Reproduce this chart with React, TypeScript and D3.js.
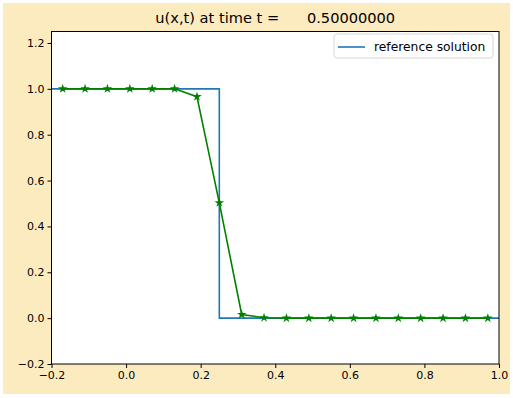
import React, { useEffect, useRef } from 'react'
import * as d3 from 'd3'

// cell centres and numerical solution at t = 0.5
const xs = [-0.17, -0.11, -0.05, 0.01, 0.07, 0.13, 0.19, 0.25, 0.31, 0.37, 0.43, 0.49, 0.55, 0.61, 0.67, 0.73, 0.79, 0.85, 0.91, 0.97]
const us = [1, 1, 1, 1, 1, 1, 0.966, 0.503, 0.016, 0.002, 0, 0, 0, 0, 0, 0, 0, 0, 0, 0]
// reference solution (step at x = 0.25)
const refX = [-0.2, 0.25, 0.25, 1.0]
const refU = [1, 1, 0, 0]
const xTicks = [-0.2, 0.0, 0.2, 0.4, 0.6, 0.8, 1.0]
const yTicks = [-0.2, 0.0, 0.2, 0.4, 0.6, 0.8, 1.0, 1.2]
const title = 'u(x,t) at time t =      0.50000000'
const legendLabel = 'reference solution'

const App: React.FC = () => {
    const ref = useRef<SVGSVGElement | null>(null)

    useEffect(() => {
        if (!ref.current) return
        const m = { left: 51.5, right: 499, top: 31.5, bottom: 364 }
        const font = 'DejaVu Sans, sans-serif'

        const svg = d3.select(ref.current)
        svg.selectAll('*').remove()

        svg.append('rect')
            .attr('x', 3).attr('y', 3)
            .attr('width', 507).attr('height', 391)
            .attr('fill', '#fdebc0')

        const x = d3.scaleLinear().domain([-0.2, 1.0]).range([m.left, m.right])
        const y = d3.scaleLinear().domain([-0.2, 1.25]).range([m.bottom, m.top])

        svg.append('rect')
            .attr('x', m.left).attr('y', m.top)
            .attr('width', m.right - m.left).attr('height', m.bottom - m.top)
            .attr('fill', '#fff')

        // reference solution
        const line = d3.line<[number, number]>().x(d => x(d[0])).y(d => y(d[1]))
        svg.append('path')
            .attr('d', line(refX.map((v, i) => [v, refU[i]]))!)
            .attr('fill', 'none')
            .attr('stroke', '#1f77b4')
            .attr('stroke-width', 1.6)

        // numerical solution
        const pts = xs.map((v, i) => [v, us[i]] as [number, number])
        svg.append('path')
            .attr('d', line(pts)!)
            .attr('fill', 'none')
            .attr('stroke', '#008000')
            .attr('stroke-width', 1.6)

        const star = d3.symbol().type(d3.symbolStar).size(28)
        svg.selectAll('.pt')
            .data(pts)
            .join('path')
            .attr('class', 'pt')
            .attr('transform', d => `translate(${x(d[0])},${y(d[1])})`)
            .attr('d', star()!)
            .attr('fill', '#008000')

        // frame
        svg.append('rect')
            .attr('x', m.left).attr('y', m.top)
            .attr('width', m.right - m.left).attr('height', m.bottom - m.top)
            .attr('fill', 'none')
            .attr('stroke', '#000')
            .attr('stroke-width', 1)

        const fmt = (d: d3.NumberValue) => d3.format('.1f')(d as number).replace('-', '\u2212')
        const xAxis = svg.append('g')
            .attr('transform', `translate(0,${m.bottom})`)
            .call(d3.axisBottom(x).tickValues(xTicks).tickSize(4).tickPadding(3).tickFormat(fmt))
        xAxis.select('.domain').remove()

        const yAxis = svg.append('g')
            .attr('transform', `translate(${m.left},0)`)
            .call(d3.axisLeft(y).tickValues(yTicks).tickSize(4).tickPadding(3).tickFormat(fmt))
        yAxis.select('.domain').remove()

        svg.selectAll('.tick text')
            .attr('font-family', font)
            .attr('font-size', 11)
            .attr('fill', '#000')
        svg.selectAll('.tick line').attr('stroke', '#000')

        svg.append('text')
            .attr('x', (m.left + m.right) / 2)
            .attr('y', 23)
            .attr('text-anchor', 'middle')
            .attr('font-family', font)
            .attr('font-size', 14.6)
            .attr('fill', '#000')
            .style('white-space', 'pre')
            .text(title)

        // legend
        const lg = svg.append('g')
        lg.append('rect')
            .attr('x', 334).attr('y', 34)
            .attr('width', 159).attr('height', 24)
            .attr('rx', 3)
            .attr('fill', '#fff')
            .attr('fill-opacity', 0.8)
            .attr('stroke', '#d6d6d6')
        lg.append('line')
            .attr('x1', 338).attr('x2', 365)
            .attr('y1', 47).attr('y2', 47)
            .attr('stroke', '#1f77b4')
            .attr('stroke-width', 1.6)
        lg.append('text')
            .attr('x', 374).attr('y', 51)
            .attr('font-family', font)
            .attr('font-size', 12.3)
            .attr('fill', '#000')
            .text(legendLabel)
    }, [])

    return (
        <svg ref={ref} width={513} height={398}
            style={{ position: 'absolute', left: 0, top: 0, display: 'block' }} />
    )
}

export default App
